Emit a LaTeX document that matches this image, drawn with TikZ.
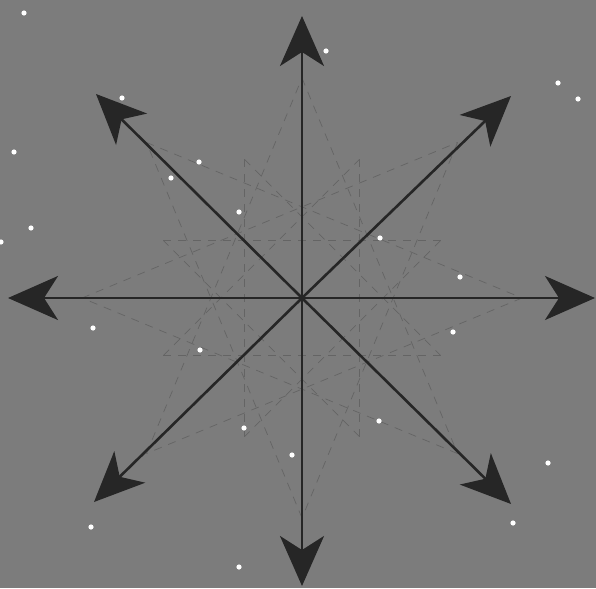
\documentclass[tikz,border=0pt]{standalone}
\usetikzlibrary{arrows.meta,calc}
\definecolor{bg}{RGB}{124,124,124}
\definecolor{ink}{RGB}{38,38,38}
\definecolor{faint}{RGB}{100,100,100}
\tikzset{
  ray/.style={draw=ink, line width=2.6pt, -{Stealth[length=50pt,width=44pt,inset=14pt]}},
  guide/.style={draw=faint, line width=0.7pt, dash pattern=on 8pt off 7pt},
  starpt/.style={fill=white, draw=none}
}
\begin{document}
\begin{tikzpicture}[x=1pt,y=-1pt]
\fill[bg] (0,0) rectangle (596,588);
\useasboundingbox (0,0) rectangle (596,588);
\coordinate (c) at (302,298);
% faint dashed star pattern
\foreach \a in {0,45,...,315}{
  \draw[guide] ($(c)+(\a:220)$) -- ($(c)+(\a+135:220)$);
  \draw[guide] ($(c)+(\a+22.5:150)$) -- ($(c)+(\a+22.5+135:150)$);
}
% arrows
\coordinate (tN) at (302,16);
\coordinate (tS) at (302,586);
\coordinate (tW) at (8,298);
\coordinate (tE) at (595,298);
\coordinate (tNW) at (96,94);
\coordinate (tNE) at (511,96);
\coordinate (tSW) at (94,502);
\coordinate (tSE) at (511,504);
\foreach \t in {tN,tS,tW,tE,tNW,tNE,tSW,tSE}{
  \draw[ray] (c) -- (\t);
}
% stars
\foreach \x/\y in {24/13,326/51,122/98,558/83,578/99,14/152,199/162,171/178,239/212,380/238,31/228,1/242,93/328,200/350,453/332,460/277,379/421,244/428,292/455,548/463,513/523,91/527,239/567}{
  \fill[starpt] (\x,\y) circle (2.6pt);
}
\end{tikzpicture}
\end{document}
